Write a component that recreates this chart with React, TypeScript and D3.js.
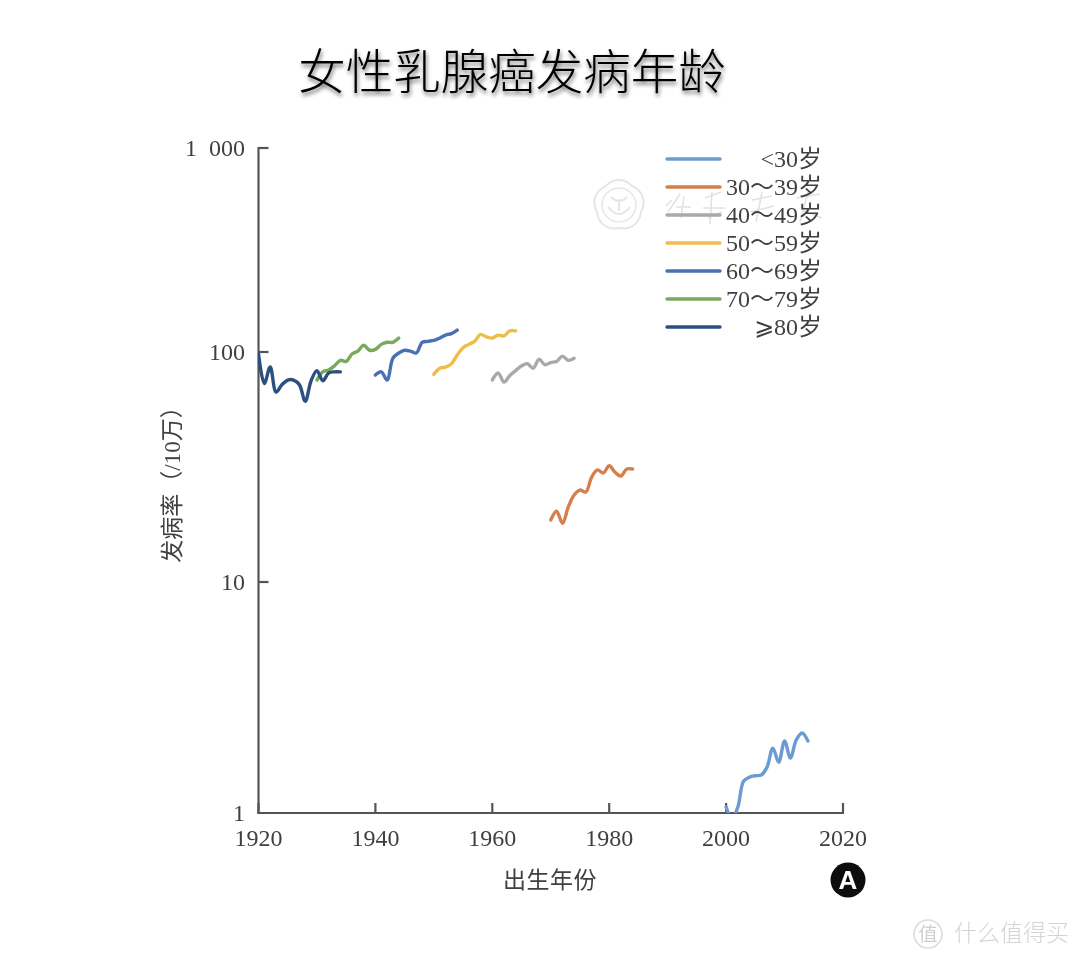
import React from "react";
import * as d3 from "d3";

const title = "女性乳腺癌发病年龄";
const xTicks = [1920, 1940, 1960, 1980, 2000, 2020];
const yTicks = [1, 10, 100, 1000];
const yTickLabels = ["1", "10", "100", "1  000"];

const legendLabels = ["<30岁", "30～39岁", "40～49岁", "50～59岁", "60～69岁", "70～79岁", "⩾80岁"];
const colors = ["#6c9bd2", "#d5804c", "#a9a9a9", "#eebd4b", "#4a70b5", "#78a95c", "#2c5080"];

const startYears = [2000, 1970, 1960, 1950, 1940, 1930, 1920];
const under30 = [1.06, 0.95, 1.06, 1.375, 1.43, 1.45, 1.46, 1.58, 1.91, 1.66, 2.05, 1.73, 2.07, 2.22, 2.05];
const age30s = [18.6, 20.3, 18, 21.2, 23.9, 25.1, 24.6, 28.6, 30.7, 29.8, 32, 30, 28.9, 31, 31];
const age40s = [75.5, 81, 74, 79, 83, 87, 89, 85, 93, 88, 90, 91, 96, 92, 94];
const age50s = [80, 85, 86, 89, 97, 105, 109, 113, 122, 118.5, 117, 121, 120, 127, 127];
const age60s = [79.4, 82, 75.5, 94, 99, 102, 101, 99, 111.6, 112.8, 114, 117, 121, 123, 128];
const age70s = [75.5, 82, 83.5, 87, 92, 91, 98, 101, 108, 102, 103, 109, 111.6, 111.6, 117];
const age80s = [98, 73, 86, 67, 72, 75.5, 75.5, 72, 61, 75, 83, 75, 81, 82, 82];
const seriesValues = [under30, age30s, age40s, age50s, age60s, age70s, age80s];

const W = 1080;
const H = 959;
const x = d3.scaleLinear().domain([1920, 2020]).range([258.5, 843]);
const y = d3.scaleLog().domain([1, 10, 100, 1000]).range([813, 582, 352, 148]);
const line = d3
  .line<[number, number]>()
  .x((d) => x(d[0]))
  .y((d) => y(d[1]))
  .curve(d3.curveCatmullRom.alpha(0.5));

const sealAngles = d3.range(0, 73).map((i) => (i / 72) * 2 * Math.PI);
const sealOutline = d3
  .lineRadial<number>()
  .angle((a) => a)
  .radius((a) => 23 + 2 * Math.abs(Math.cos(2.5 * a)))
  .curve(d3.curveCardinalClosed);

const CJK = '"Noto Sans CJK SC", sans-serif';
const SERIF = '"Liberation Serif", "Noto Sans CJK SC", "DejaVu Sans", serif';
const TXT = "#3f3f3f";
const AX = "#555555";

export default function App() {
  return (
    <svg
      width={W}
      height={H}
      viewBox={`0 0 ${W} ${H}`}
      style={{ position: "absolute", left: 0, top: 0, background: "#fff", display: "block" }}
    >
      <defs>
        <clipPath id="plot">
          <rect x={258} y={140} width={600} height={673} />
        </clipPath>
        <filter id="soft" x="-5%" y="-5%" width="110%" height="110%">
          <feGaussianBlur stdDeviation="0.6" />
        </filter>
        <filter id="shadow" x="-5%" y="-30%" width="110%" height="170%">
          <feGaussianBlur in="SourceAlpha" stdDeviation="2.2" result="b" />
          <feOffset in="b" dx="1" dy="3" result="o" />
          <feComponentTransfer in="o" result="s">
            <feFuncA type="linear" slope="0.6" />
          </feComponentTransfer>
          <feMerge>
            <feMergeNode in="s" />
            <feMergeNode in="SourceGraphic" />
          </feMerge>
        </filter>
      </defs>

      <text
        x={512}
        y={89}
        textAnchor="middle"
        fontFamily={CJK}
        fontSize={47.5}
        fontWeight={300}
        fill="#000"
        filter="url(#shadow)"
      >
        {title}
      </text>

      {/* faint seal watermark */}
      <g fill="none" stroke="#e6e6e6" strokeWidth={2} filter="url(#soft)" transform="translate(619,205)">
        <path d={sealOutline(sealAngles) ?? ""} />
        <circle r={17} strokeWidth={1.5} />
        <path d="M-11 2 q11 14 22 0 M-8 -8 q8 8 16 0 M0 -6 v12" />
      </g>
      {/* faint script watermark strokes */}
      <g fill="none" stroke="#e2e2e2" strokeWidth={1.6} filter="url(#soft)">
        <path d="M668 212 l12 -18 M672 200 l-6 6 M684 196 l-3 22 M676 207 h15" />
        <path d="M705 198 l16 -6 M712 192 l-2 32 M703 208 h22 M708 218 l14 -6" />
        <path d="M752 200 l20 -4 M762 192 l-6 30 M750 212 l24 -6" />
        <path d="M796 198 l24 -4 M808 192 l-8 30 M802 210 l20 8" />
      </g>

      <g filter="url(#soft)">
        {/* axes */}
        <g stroke={AX} strokeWidth={2.2} fill="none">
          <line x1={x(1920)} x2={x(1920)} y1={y(1000) - 1} y2={y(1) + 1} />
          <line x1={x(1920) - 1} x2={x(2020) + 1} y1={y(1)} y2={y(1)} />
          {yTicks.slice(1).map((t) => (
            <line key={t} x1={x(1920)} x2={x(1920) + 10} y1={y(t)} y2={y(t)} />
          ))}
          {xTicks.map((t) => (
            <line key={t} x1={x(t)} x2={x(t)} y1={y(1)} y2={y(1) - 10} />
          ))}
        </g>

        {/* tick labels */}
        <g fontFamily={SERIF} fontSize={24} fill={TXT}>
          {xTicks.map((t) => (
            <text key={t} x={x(t)} y={846} textAnchor="middle">
              {t}
            </text>
          ))}
          {yTicks.map((t, i) => (
            <text key={t} x={245} y={y(t) + 8} textAnchor="end" style={{ whiteSpace: "pre" }}>
              {yTickLabels[i]}
            </text>
          ))}
        </g>

        {/* axis titles */}
        <text x={550} y={888} textAnchor="middle" fontFamily={CJK} fontSize={23} fill={TXT} letterSpacing={0.5}>
          出生年份
        </text>
        <text
          transform="translate(180,479) rotate(-90)"
          textAnchor="middle"
          fontFamily={SERIF}
          fontSize={23}
          fill={TXT}
        >
          发病率（/10万）
        </text>

        {/* series */}
        <g clipPath="url(#plot)" fill="none" strokeWidth={3.4} strokeLinecap="round" strokeLinejoin="round">
          {seriesValues.map((vals, i) => (
            <path
              key={i}
              stroke={colors[i]}
              d={line(vals.map((v, k) => [startYears[i] + k, v] as [number, number])) ?? ""}
            />
          ))}
        </g>

        {/* legend */}
        {legendLabels.map((l, i) => {
          const ly = 159 + i * 28;
          return (
            <g key={l}>
              <line x1={667} x2={720} y1={ly} y2={ly} stroke={colors[i]} strokeWidth={3.4} strokeLinecap="round" />
              <text x={822} y={ly + 8} textAnchor="end" fontFamily={SERIF} fontSize={24} fill={TXT}>
                {l}
              </text>
            </g>
          );
        })}

        {/* panel badge */}
        <circle cx={848} cy={880} r={17.5} fill="#111" />
        <text x={848} y={889} textAnchor="middle" fontFamily='"Liberation Sans", sans-serif' fontSize={26} fontWeight={700} fill="#fff">
          A
        </text>
      </g>

      {/* site watermark */}
      <g filter="url(#soft)">
        <circle cx={928} cy={934} r={14} fill="none" stroke="#dcdcdc" strokeWidth={1.5} />
        <text x={928} y={941} textAnchor="middle" fontFamily={CJK} fontSize={19} fill="#cfcfcf">
          值
        </text>
        <text x={954} y={941} fontFamily={CJK} fontSize={23} fontWeight={300} fill="#d4d4d4">
          什么值得买
        </text>
      </g>
    </svg>
  );
}
